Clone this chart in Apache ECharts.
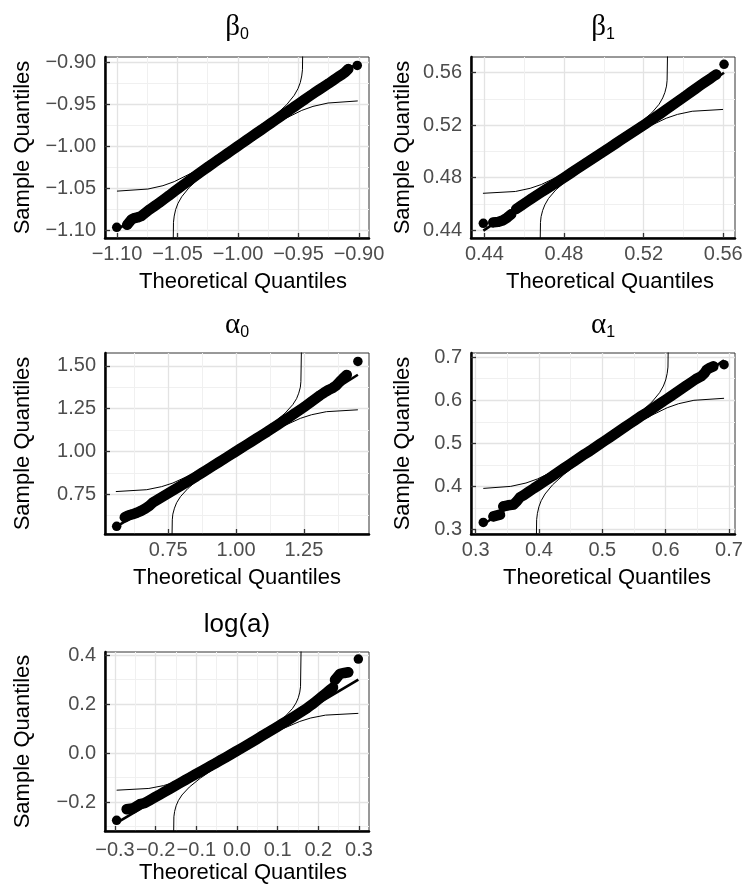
<!DOCTYPE html>
<html><head><meta charset="utf-8">
<script src="https://cdn.jsdelivr.net/npm/echarts@6/dist/echarts.min.js"></script>
<style>html,body{margin:0;padding:0;background:#fff}#c{width:747px;height:888px}</style>
</head><body><div id="c"></div>
<script>
// ---------- beta0 ----------
const b0_theo = [-1.1002,-1.0915,-1.0880,-1.0855,-1.0830,-1.0800,-1.0770,
-1.073,-1.069,-1.065,-1.061,-1.057,-1.053,-1.049,-1.045,-1.041,-1.037,-1.033,-1.029,-1.025,-1.021,-1.017,-1.013,-1.009,-1.005,-1.001,-0.997,-0.993,-0.989,-0.985,-0.981,-0.977,-0.973,-0.969,-0.965,-0.961,-0.957,-0.953,-0.949,-0.945,-0.941,-0.937,-0.933,-0.929,-0.925,-0.921,-0.917,
-0.9140,-0.9115,-0.9088,-0.9014];
const b0_samp = [-1.0968,-1.0938,-1.0875,-1.0858,-1.0850,-1.0835,-1.0800,
-1.0755,-1.0715,-1.0675,-1.0632,-1.0590,-1.0545,-1.0503,-1.0460,-1.0418,-1.0376,-1.0334,-1.0292,-1.0251,-1.0210,-1.0170,-1.0130,-1.0090,-1.0050,-1.0010,-0.9970,-0.9930,-0.9890,-0.9850,-0.9810,-0.9770,-0.9730,-0.9690,-0.9650,-0.9610,-0.9568,-0.9528,-0.9488,-0.9448,-0.9408,-0.9368,-0.9330,-0.9292,-0.9255,-0.9215,-0.9175,
-0.9148,-0.9122,-0.9083,-0.9040];
const b0_upperX = [-1.1000,-1.0744,-1.0620,-1.0527,-1.0372,-1.0155,-0.9845,-0.9690,-0.9597,-0.9535,-0.9504,-0.9485,-0.9473,-0.9467,-0.9461];
const b0_upperY = [-1.0537,-1.0512,-1.0472,-1.0424,-1.0313,-1.0120,-0.9808,-0.9632,-0.9507,-0.9396,-0.9317,-0.9245,-0.9166,-0.9092,-0.8450];
const b0_lowerX = [-1.0539,-1.0533,-1.0527,-1.0515,-1.0496,-1.0465,-1.0403,-1.0310,-1.0155,-0.9845,-0.9628,-0.9473,-0.9380,-0.9256,-0.9010];
const b0_lowerY = [-1.1550,-1.0908,-1.0834,-1.0755,-1.0683,-1.0604,-1.0493,-1.0368,-1.0192,-0.9880,-0.9687,-0.9576,-0.9528,-0.9488,-0.9463];
const b0_lineX = [-1.1002,-0.9014];
const b0_lineY = [-1.1002,-0.9014];
const b0_xRange = [-1.1099,-0.8917];
const b0_yRange = [-1.1095,-0.8940];
const b0_xTicks = [-1.10,-1.05,-1.00,-0.95,-0.90];
const b0_xLabels = ['−1.10','−1.05','−1.00','−0.95','−0.90'];
const b0_xMinor = [-1.075,-1.025,-0.975,-0.925];
const b0_yTicks = [-1.10,-1.05,-1.00,-0.95,-0.90];
const b0_yLabels = ['−1.10','−1.05','−1.00','−0.95','−0.90'];
const b0_yMinor = [-1.075,-1.025,-0.975,-0.925];

// ---------- beta1 ----------
const b1_theo = [0.4395,0.4445,0.4470,0.4495,0.4515,0.4535,
0.4560,0.4585,0.4610,0.4635,0.4660,0.4685,0.4710,0.4735,0.4760,0.4785,0.4810,0.4835,0.4860,0.4885,0.4910,0.4935,0.4960,0.4985,0.5010,0.5035,0.5060,0.5085,0.5110,0.5135,0.5160,0.5185,0.5210,0.5235,0.5260,0.5285,0.5310,0.5335,0.5360,0.5385,0.5410,0.5435,0.5460,0.5485,0.5510,0.5535,
0.5550,0.5565,0.5604];
const b1_samp = [0.4451,0.4458,0.4462,0.4475,0.4495,0.4520,
0.4560,0.4586,0.4612,0.4638,0.4663,0.4687,0.4711,0.4735,0.4760,0.4785,0.4810,0.4835,0.4860,0.4885,0.4910,0.4935,0.4960,0.4985,0.5010,0.5035,0.5060,0.5085,0.5110,0.5135,0.5160,0.5185,0.5210,0.5236,0.5262,0.5288,0.5315,0.5342,0.5369,0.5396,0.5423,0.5450,0.5477,0.5504,0.5530,0.5555,
0.5572,0.5586,0.5664];
const b1_upperX = [0.4393,0.4556,0.4630,0.4686,0.4778,0.4908,0.5093,0.5185,0.5241,0.5278,0.5296,0.5307,0.5315,0.5318,0.5322];
const b1_upperY = [0.4680,0.4694,0.4718,0.4747,0.4813,0.4929,0.5115,0.5220,0.5294,0.5360,0.5408,0.5450,0.5498,0.5542,0.5925];
const b1_lowerX = [0.4678,0.4682,0.4685,0.4693,0.4704,0.4722,0.4759,0.4815,0.4907,0.5092,0.5222,0.5314,0.5370,0.5444,0.5599];
const b1_lowerY = [0.4075,0.4458,0.4502,0.4550,0.4592,0.4640,0.4706,0.4780,0.4885,0.5071,0.5187,0.5253,0.5282,0.5306,0.5320];
const b1_lineX = [0.4395,0.5604];
const b1_lineY = [0.4395,0.5600];
const b1_xRange = [0.4333,0.5659];
const b1_yRange = [0.4339,0.5720];
const b1_xTicks = [0.44,0.48,0.52,0.56];
const b1_xLabels = ['0.44','0.48','0.52','0.56'];
const b1_xMinor = [0.46,0.50,0.54];
const b1_yTicks = [0.44,0.48,0.52,0.56];
const b1_yLabels = ['0.44','0.48','0.52','0.56'];
const b1_yMinor = [0.46,0.50,0.54];

// ---------- alpha0 ----------
const a0_theo = [0.560,0.590,0.603,0.618,0.634,0.650,0.665,0.680,
0.695,0.715,0.735,0.755,0.775,0.795,0.815,0.835,0.855,0.875,0.895,0.915,0.935,0.955,0.975,0.995,1.015,1.035,1.055,1.075,1.095,1.115,1.135,1.155,1.175,1.195,1.215,1.235,1.255,1.275,1.295,1.310,
1.325,1.340,1.355,1.370,1.383,1.395,1.408,1.449];
const a0_samp = [0.562,0.615,0.625,0.632,0.641,0.652,0.665,0.681,
0.703,0.722,0.741,0.760,0.779,0.798,0.817,0.836,0.855,0.875,0.895,0.915,0.935,0.955,0.975,0.995,1.015,1.035,1.055,1.075,1.095,1.115,1.136,1.157,1.178,1.199,1.220,1.242,1.264,1.287,1.310,1.328,
1.344,1.358,1.370,1.386,1.409,1.428,1.447,1.526];
const a0_upperX = [0.557,0.671,0.726,0.767,0.836,0.933,1.071,1.140,1.181,1.209,1.223,1.231,1.237,1.239,1.242];
const a0_upperY = [0.765,0.776,0.794,0.815,0.865,0.951,1.090,1.168,1.224,1.273,1.308,1.340,1.375,1.408,1.694];
const a0_lowerX = [0.762,0.765,0.767,0.773,0.781,0.795,0.823,0.864,0.933,1.071,1.168,1.237,1.278,1.333,1.449];
const a0_lowerY = [0.314,0.600,0.633,0.668,0.700,0.735,0.784,0.840,0.918,1.057,1.143,1.193,1.214,1.232,1.243];
const a0_lineX = [0.560,1.449];
const a0_lineY = [0.560,1.448];
const a0_xRange = [0.517,1.490];
const a0_yRange = [0.517,1.575];
const a0_xTicks = [0.75,1.00,1.25];
const a0_xLabels = ['0.75','1.00','1.25'];
const a0_xMinor = [0.625,0.875,1.125,1.375];
const a0_yTicks = [0.75,1.00,1.25,1.50];
const a0_yLabels = ['0.75','1.00','1.25','1.50'];
const a0_yMinor = [0.625,0.875,1.125,1.375];

// ---------- alpha1 ----------
const a1_theo = [0.312,0.328,0.3384,0.3436,0.3515,0.3594,0.3650,0.3700,
0.376,0.384,0.392,0.400,0.408,0.416,0.424,0.432,0.440,0.448,0.456,0.464,0.472,0.480,0.488,0.496,0.504,0.512,0.520,0.528,0.536,0.544,0.552,0.560,0.568,0.576,0.584,0.592,0.600,0.608,0.616,0.624,0.632,0.640,0.648,
0.656,0.661,0.665,0.670,0.6754,0.6923];
const a1_samp = [0.3169,0.3308,0.3347,0.3540,0.3565,0.3580,0.3660,0.3750,
0.380,0.388,0.396,0.4035,0.4112,0.419,0.427,0.435,0.443,0.451,0.459,0.467,0.475,0.482,0.490,0.498,0.506,0.514,0.522,0.530,0.538,0.546,0.554,0.562,0.569,0.577,0.585,0.593,0.601,0.609,0.617,0.625,0.633,0.641,0.649,
0.655,0.662,0.6706,0.675,0.6783,0.6822];
const a1_upperX = [0.312,0.3553,0.3794,0.3975,0.4276,0.4698,0.5302,0.5603,0.5784,0.5905,0.5965,0.6001,0.6025,0.6037,0.6049];
const a1_upperY = [0.3956,0.4003,0.4081,0.4175,0.4390,0.4767,0.5374,0.5716,0.5959,0.6174,0.6328,0.6468,0.6622,0.6767,0.8015];
const a1_lowerX = [0.3951,0.3963,0.3975,0.3999,0.4035,0.4095,0.4216,0.4397,0.4698,0.5302,0.5724,0.6025,0.6206,0.6447,0.6923];
const a1_lowerY = [0.1985,0.3233,0.3378,0.3532,0.3672,0.3826,0.4041,0.4284,0.4626,0.5233,0.5610,0.5825,0.5919,0.5997,0.6044];
const a1_lineX = [0.312,0.6923];
const a1_lineY = [0.312,0.6923];
const a1_xRange = [0.2926,0.7096];
const a1_yRange = [0.2900,0.7093];
const a1_xTicks = [0.3,0.4,0.5,0.6,0.7];
const a1_xLabels = ['0.3','0.4','0.5','0.6','0.7'];
const a1_xMinor = [0.35,0.45,0.55,0.65];
const a1_yTicks = [0.3,0.4,0.5,0.6,0.7];
const a1_yLabels = ['0.3','0.4','0.5','0.6','0.7'];
const a1_yMinor = [0.35,0.45,0.55,0.65];

// ---------- log(a) ----------
const la_theo = [-0.296,-0.2713,-0.2620,-0.2550,-0.2450,-0.2385,
-0.2275,-0.215,-0.2025,-0.19,-0.1775,-0.165,-0.1525,-0.14,-0.1275,-0.115,-0.1025,-0.09,-0.0775,-0.065,-0.0525,-0.04,-0.0275,-0.015,-0.0025,0.01,0.0225,0.035,0.0475,0.06,0.0725,0.085,0.0975,0.11,0.1225,0.135,0.1475,0.16,
0.1725,0.185,0.1975,0.21,0.22,0.2287,0.236,0.241,0.245,0.2533,0.2638,0.2738,0.2984];
const la_samp = [-0.274,-0.2288,-0.2265,-0.2247,-0.2150,-0.2080,
-0.2040,-0.1925,-0.1805,-0.1690,-0.1570,-0.1455,-0.1335,-0.1220,-0.1100,-0.0985,-0.0870,-0.0755,-0.0635,-0.0520,-0.0405,-0.0285,-0.0170,-0.0050,0.0070,0.0190,0.0310,0.0435,0.0560,0.0685,0.0810,0.0935,0.1060,0.1185,0.1310,0.1440,0.1570,0.1705,
0.1840,0.1990,0.2160,0.2330,0.2460,0.2580,0.2680,0.2986,0.3050,0.3233,0.3270,0.3300,0.3836];
const la_upperX = [-0.296,-0.2167,-0.1805,-0.1534,-0.1081,-0.0448,0.0458,0.0910,0.1182,0.1363,0.1453,0.1507,0.1544,0.1562,0.1579];
const la_upperY = [-0.1512,-0.1441,-0.1324,-0.1183,-0.0860,-0.0294,0.0616,0.1129,0.1495,0.1817,0.2049,0.2258,0.2489,0.2707,0.4580];
const la_lowerX = [-0.1569,-0.1552,-0.1534,-0.1497,-0.1443,-0.1353,-0.1172,-0.0900,-0.0448,0.0458,0.1091,0.1544,0.1815,0.2177,0.2984];
const la_lowerY = [-0.4470,-0.2597,-0.2379,-0.2148,-0.1939,-0.1707,-0.1385,-0.1019,-0.0506,0.0404,0.0970,0.1293,0.1434,0.1551,0.1622];
const la_lineX = [-0.296,0.2984];
const la_lineY = [-0.285,0.300];
const la_xRange = [-0.3246,0.3246];
const la_yRange = [-0.3177,0.4126];
const la_xTicks = [-0.3,-0.2,-0.1,0,0.1,0.2,0.3];
const la_xLabels = ['−0.3','−0.2','−0.1','0.0','0.1','0.2','0.3'];
const la_xMinor = [-0.25,-0.15,-0.05,0.05,0.15,0.25];
const la_yTicks = [-0.2,0,0.2,0.4];
const la_yLabels = ['−0.2','0.0','0.2','0.4'];
const la_yMinor = [-0.3,-0.1,0.1,0.3];

const panelTitles = ['{g|β}{s|0}','{g|β}{s|1}','{g|α}{s|0}','{g|α}{s|1}','log(a)'];
const xTitle = 'Theoretical Quantiles';
const yTitle = 'Sample Quantiles';

// ---------- assembly ----------
const panels = [
  {theo:b0_theo,samp:b0_samp,ux:b0_upperX,uy:b0_upperY,lx:b0_lowerX,ly:b0_lowerY,lnx:b0_lineX,lny:b0_lineY,xr:b0_xRange,yr:b0_yRange,xt:b0_xTicks,xl:b0_xLabels,xm:b0_xMinor,yt:b0_yTicks,yl:b0_yLabels,ym:b0_yMinor},
  {theo:b1_theo,samp:b1_samp,ux:b1_upperX,uy:b1_upperY,lx:b1_lowerX,ly:b1_lowerY,lnx:b1_lineX,lny:b1_lineY,xr:b1_xRange,yr:b1_yRange,xt:b1_xTicks,xl:b1_xLabels,xm:b1_xMinor,yt:b1_yTicks,yl:b1_yLabels,ym:b1_yMinor},
  {theo:a0_theo,samp:a0_samp,ux:a0_upperX,uy:a0_upperY,lx:a0_lowerX,ly:a0_lowerY,lnx:a0_lineX,lny:a0_lineY,xr:a0_xRange,yr:a0_yRange,xt:a0_xTicks,xl:a0_xLabels,xm:a0_xMinor,yt:a0_yTicks,yl:a0_yLabels,ym:a0_yMinor},
  {theo:a1_theo,samp:a1_samp,ux:a1_upperX,uy:a1_upperY,lx:a1_lowerX,ly:a1_lowerY,lnx:a1_lineX,lny:a1_lineY,xr:a1_xRange,yr:a1_yRange,xt:a1_xTicks,xl:a1_xLabels,xm:a1_xMinor,yt:a1_yTicks,yl:a1_yLabels,ym:a1_yMinor},
  {theo:la_theo,samp:la_samp,ux:la_upperX,uy:la_upperY,lx:la_lowerX,ly:la_lowerY,lnx:la_lineX,lny:la_lineY,xr:la_xRange,yr:la_yRange,xt:la_xTicks,xl:la_xLabels,xm:la_xMinor,yt:la_yTicks,yl:la_yLabels,ym:la_yMinor}
];
const layout = [
  {left:105, top:57,  width:264, height:181, yGap:71, xGap:33, xMargin:6, shift:6, titleY:27},
  {left:471, top:57,  width:264, height:181, yGap:57, xGap:33, xMargin:6, shift:7, titleY:27},
  {left:105, top:353, width:264, height:181, yGap:71, xGap:33, xMargin:6, shift:0, titleY:325},
  {left:471, top:353, width:264, height:181, yGap:57, xGap:33, xMargin:6, shift:4, titleY:325},
  {left:105, top:652, width:264, height:179, yGap:71, xGap:31, xMargin:9, shift:6, titleY:625}
];

const FONT = 'Liberation Sans, Arial, sans-serif';
const pairs = (a, b) => a.map((v, k) => [v, b[k]]);
const labeler = (ticks, labels) => v => {
  const i = ticks.findIndex(t => Math.abs(t - v) < 1e-7);
  return i < 0 ? '' : labels[i];
};
// split the sample points into runs of touching points (the dense band)
const denseRuns = (p, L) => {
  const sx = L.width / (p.xr[1] - p.xr[0]), sy = L.height / (p.yr[1] - p.yr[0]);
  const runs = []; let cur = [[p.theo[0], p.samp[0]]];
  for (let k = 1; k < p.theo.length; k++) {
    const d = Math.hypot((p.theo[k] - p.theo[k-1]) * sx, (p.samp[k] - p.samp[k-1]) * sy);
    if (d > 7) { runs.push(cur); cur = []; }
    cur.push([p.theo[k], p.samp[k]]);
  }
  runs.push(cur);
  return runs.filter(r => r.length > 1);
};

const grid = [], xAxis = [], yAxis = [], series = [], graphic = [];
panels.forEach((p, i) => {
  const L = layout[i];
  grid.push({left:L.left, top:L.top, width:L.width, height:L.height, show:true,
    borderColor:'#333', borderWidth:1, backgroundColor:'#fff', containLabel:false, outerBoundsMode:'none'});
  const minorSplit = {show:true, lineStyle:{color:'#f0f0f0', width:1}};
  const majorSplit = {show:true, lineStyle:{color:'#e3e3e3', width:1.3}};
  const labelStyle = {color:'#4d4d4d', fontSize:20, fontFamily:FONT};
  xAxis.push({type:'value', gridIndex:i, position:'bottom', min:p.xr[0], max:p.xr[1],
    axisLine:{show:false, onZero:false}, axisTick:{show:false, customValues:p.xm},
    axisLabel:{show:false}, splitLine:minorSplit});
  yAxis.push({type:'value', gridIndex:i, position:'left', min:p.yr[0], max:p.yr[1],
    axisLine:{show:false, onZero:false}, axisTick:{show:false, customValues:p.ym},
    axisLabel:{show:false}, splitLine:minorSplit});
  xAxis.push({type:'value', gridIndex:i, position:'bottom', min:p.xr[0], max:p.xr[1],
    axisLine:{show:true, onZero:false, lineStyle:{color:'#000', width:2.5}},
    axisTick:{show:true, inside:true, length:5, customValues:p.xt, lineStyle:{color:'#333', width:1.3}},
    axisLabel:Object.assign({show:true, customValues:p.xt, margin:L.xMargin, hideOverlap:false, formatter:labeler(p.xt, p.xl)}, labelStyle),
    splitLine:majorSplit,
    name:xTitle, nameLocation:'middle', nameGap:L.xGap,
    nameTextStyle:{color:'#000', fontSize:22, fontFamily:FONT, padding:[0,0,0,2*L.shift]}});
  yAxis.push({type:'value', gridIndex:i, position:'left', min:p.yr[0], max:p.yr[1],
    axisLine:{show:true, onZero:false, lineStyle:{color:'#000', width:2.5}},
    axisTick:{show:true, inside:true, length:5, customValues:p.yt, lineStyle:{color:'#333', width:1.3}},
    axisLabel:Object.assign({show:true, customValues:p.yt, margin:9, hideOverlap:false, formatter:labeler(p.yt, p.yl)}, labelStyle),
    splitLine:majorSplit,
    name:yTitle, nameLocation:'middle', nameGap:L.yGap,
    nameTextStyle:{color:'#000', fontSize:22, fontFamily:FONT}});
  const xi = 2*i+1, yi = 2*i+1;
  series.push({type:'line', xAxisIndex:xi, yAxisIndex:yi, data:pairs(p.ux, p.uy), symbol:'none',
    lineStyle:{color:'#000', width:1}, clip:true, silent:true, z:2});
  series.push({type:'line', xAxisIndex:xi, yAxisIndex:yi, data:pairs(p.lx, p.ly), symbol:'none',
    lineStyle:{color:'#000', width:1}, clip:true, silent:true, z:2});
  series.push({type:'line', xAxisIndex:xi, yAxisIndex:yi, data:pairs(p.lnx, p.lny), symbol:'none',
    lineStyle:{color:'#000', width:2.6}, clip:true, silent:true, z:3});
  denseRuns(p, L).forEach(run => {
    series.push({type:'line', xAxisIndex:xi, yAxisIndex:yi, data:run, symbol:'none',
      lineStyle:{color:'#000', width:10.5, cap:'round', join:'round'}, clip:true, silent:true, z:4});
  });
  series.push({type:'scatter', xAxisIndex:xi, yAxisIndex:yi, data:pairs(p.theo, p.samp), symbol:'circle',
    symbolSize:9.5, itemStyle:{color:'#000', opacity:1}, silent:true, z:5});
  const isRich = panelTitles[i].indexOf('{') === 0;
  graphic.push({type:'text', x:L.left + L.width/2, y:L.titleY, z:10,
    style: isRich ? {
      text:panelTitles[i], align:'center', verticalAlign:'middle',
      rich:{
        g:{fontFamily:'Liberation Serif, DejaVu Serif, serif', fontSize:29, fill:'#000', lineHeight:32, verticalAlign:'middle'},
        s:{fontFamily:FONT, fontSize:16, fill:'#000', lineHeight:16, verticalAlign:'bottom'}
      }
    } : {text:panelTitles[i], align:'center', verticalAlign:'middle', fontFamily:FONT, fontSize:26, fill:'#000'}
  });
});

const chart = echarts.init(document.getElementById('c'), null, {renderer:'canvas'});
chart.setOption({animation:false, backgroundColor:'#fff', grid, xAxis, yAxis, series, graphic});
</script></body></html>
